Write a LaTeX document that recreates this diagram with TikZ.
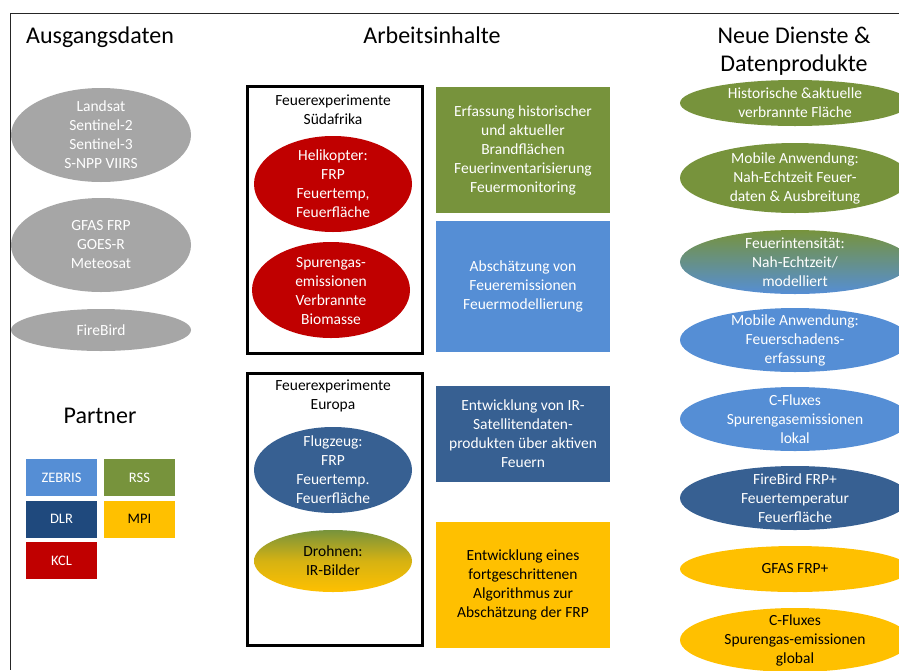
\documentclass[tikz,border=0pt]{standalone}
\usepackage{fontspec}
\setmainfont{Carlito}
\usepackage{tikz}
\usetikzlibrary{shapes,shadings}
\definecolor{fgray}{HTML}{A6A6A6}
\definecolor{fred}{HTML}{C00000}
\definecolor{fgreen}{HTML}{77933C}
\definecolor{fblue}{HTML}{558ED5}
\definecolor{fnavy}{HTML}{376092}
\definecolor{fdlr}{HTML}{1F497D}
\definecolor{fyellow}{HTML}{FFC000}
\tikzstyle{heading}=[font=\fontsize{24}{28}\selectfont, align=center]
\tikzstyle{txt}=[font=\fontsize{15.5}{19}\selectfont, align=center, text=white, inner sep=0pt]
\tikzstyle{work}=[txt, minimum width=174pt]
\tikzstyle{expbox}=[draw, line width=2.5pt, anchor=north west, minimum width=175pt]
\tikzstyle{partner}=[font=\fontsize{14.5}{17}\selectfont, minimum width=71pt, minimum height=37pt, inner sep=0pt, text=white]

\begin{document}
\begin{tikzpicture}[x=1pt, y=-1pt]

    \clip (0,0) rectangle (899,670);
    \fill[white] (0,0) rectangle (899,670);
    \draw[black!85, line width=1pt] (899,13) -- (10,13) -- (10,670);

    \node[heading, anchor=base] (ausgang) at (100,43) {Ausgangsdaten};
    \node[heading, anchor=base] (arbeit) at (432,43) {Arbeitsinhalte};
    \node[heading] (dienste) at (794,51) {Neue Dienste \&\\Datenprodukte};
    \node[heading, anchor=base] (partner) at (100,423) {Partner};

    \def\rx{90pt};
    \foreach \pos/\ry/\name/\txt in {{(101,135)/47/landsat/{Landsat\\Sentinel-2\\Sentinel-3\\S-NPP VIIRS}},
        {(101,245)/47/gfas/{GFAS FRP\\GOES-R\\Meteosat}}, {(101,330)/21/firebird/{FireBird}}}
    {
        \fill[fgray] \pos ellipse [x radius=\rx, y radius=\ry pt];
        \node[txt] (\name) at \pos {\txt};
    }

    \node[expbox, minimum height=267pt] (suedafrika) at (246,85) {};
    \node[txt, text=black] (suedtitel) at (333,110) {Feuerexperimente\\Südafrika};
    \node[expbox, minimum height=272pt] (europa) at (246,372) {};
    \node[txt, text=black] (europatitel) at (333,396) {Feuerexperimente\\Europa};

    \def\rx{79pt};
    \fill[fred] (333,184) ellipse [x radius=\rx, y radius=48pt];
    \node[txt] (heli) at (333,184) {Helikopter:\\FRP\\Feuertemp,\\Feuerfläche};
    \fill[fred] (331,290) ellipse [x radius=\rx, y radius=48pt];
    \node[txt] (spuren) at (331,291) {Spurengas-\\emissionen\\Verbrannte\\Biomasse};
    \fill[fnavy] (333,470) ellipse [x radius=\rx, y radius=43pt];
    \node[txt] (flugzeug) at (333,470) {Flugzeug:\\FRP\\Feuertemp.\\Feuerfläche};
    \shade[top color=fgreen, bottom color=fyellow, middle color=fyellow!70!fgreen] (333,561) ellipse [x radius=\rx, y radius=31pt];
    \node[txt, text=black] (drohnen) at (333,561) {Drohnen:\\IR-Bilder};

    \node[work, fill=fgreen, minimum height=126pt] (erfassung) at (523,150)
        {Erfassung historischer\\und aktueller\\Brandflächen\\Feuerinventarisierung\\Feuermonitoring};
    \node[work, fill=fblue, minimum height=131pt] (abschaetzung) at (523,286.5)
        {Abschätzung von\\Feueremissionen\\Feuermodellierung};
    \node[work, fill=fnavy, minimum height=96pt] (satellit) at (523,434)
        {Entwicklung von IR-\\Satellitendaten-\\produkten über aktiven\\Feuern};
    \node[work, fill=fyellow, text=black, minimum height=126pt] (algorithmus) at (523,585)
        {Entwicklung eines\\fortgeschrittenen\\Algorithmus zur\\Abschätzung der FRP};

    \def\rx{115pt};
    \foreach \pos/\ry/\col/\tcol/\name/\txt in {{(795,103)/23/fgreen/white/flaeche/{Historische \&aktuelle\\verbrannte Fläche}},
        {(795,178)/35/fgreen/white/mobil/{Mobile Anwendung:\\Nah-Echtzeit Feuer-\\daten \& Ausbreitung}},
        {(795,340)/32/fblue/white/schaden/{Mobile Anwendung:\\Feuerschadens-\\erfassung}},
        {(795,419)/32/fblue/white/lokal/{C-Fluxes\\Spurengasemissionen\\lokal}},
        {(795,498)/32/fnavy/white/frpplus/{FireBird FRP+\\Feuertemperatur\\Feuerfläche}},
        {(795,569)/23/fyellow/black/gfasplus/{GFAS FRP+}},
        {(795,640)/32/fyellow/black/global/{C-Fluxes\\Spurengas-emissionen\\global}}}
    {
        \fill[\col] \pos ellipse [x radius=\rx, y radius=\ry pt];
        \node[txt, text=\tcol] (\name) at \pos {\txt};
    }
    \shade[top color=fgreen, bottom color=fblue] (795,262) ellipse [x radius=\rx, y radius=32pt];
    \node[txt] (intensitaet) at (795,262) {Feuerintensität:\\Nah-Echtzeit/\\modelliert};

    \foreach \pos/\col/\tcol/\name in {{(61.5,477.5)/fblue/white/ZEBRIS}, {(139.5,477.5)/fgreen/white/RSS},
        {(61.5,519)/fdlr/white/DLR}, {(139.5,519)/fyellow/black/MPI}, {(61.5,560.5)/fred/white/KCL}}
        \node[partner, fill=\col, text=\tcol] (\name) at \pos {\name};

\end{tikzpicture}
\end{document}
